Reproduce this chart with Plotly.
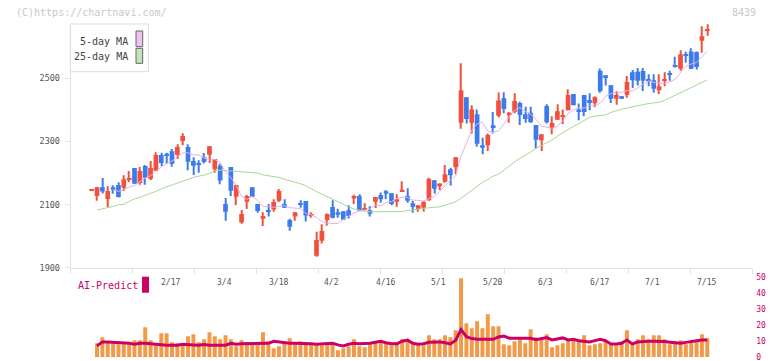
import plotly.graph_objects as go

W, H = 772, 361

# ---------------- data ----------------
idx = list(range(116))
label_pos = [15, 25, 35, 45, 55, 65, 75, 85, 95, 105, 115]
label_text = ["2/17", "3/4", "3/18", "4/2", "4/16", "5/1", "5/20", "6/3", "6/17", "7/1", "7/15"]

open_ = [2145, 2127, 2155, 2118, 2155, 2162, 2153, 2178, 2216, 2168,
         2222, 2182, 2207, 2257, 2261, 2269, 2258, 2301, 2282, 2238,
         2232, 2250, 2258, 2212, 2222, 2102, 2219, 2125, 2043, 2109,
         2155, 2102, 2055, 2080, 2084, 2112, 2102, 2051, 2062, 2103,
         2111, 2064, 1938, 1985, 2051, 2092, 2076, 2079, 2082, 2119,
         2127, 2083, 2082, 2109, 2130, 2142, 2136, 2109, 2141, 2127,
         2104, 2085, 2090, 2114, 2177, 2158, 2172, 2212, 2218, 2359,
         2440, 2359, 2386, 2288, 2288, 2351, 2381, 2437, 2385, 2394,
         2422, 2386, 2391, 2352, 2304, 2412, 2342, 2369, 2379, 2399,
         2450, 2401, 2447, 2431, 2421, 2524, 2510, 2478, 2435, 2443,
         2448, 2519, 2521, 2523, 2497, 2494, 2462, 2494, 2517, 2542,
         2530, 2577, 2585, 2583, 2619, 2652]
high = [2145, 2155, 2184, 2158, 2161, 2171, 2193, 2206, 2216, 2219,
        2225, 2238, 2266, 2264, 2264, 2276, 2291, 2326, 2291, 2250,
        2240, 2263, 2285, 2244, 2229, 2121, 2219, 2162, 2083, 2130,
        2155, 2102, 2076, 2102, 2117, 2149, 2117, 2055, 2076, 2114,
        2111, 2076, 2014, 2038, 2072, 2114, 2087, 2079, 2098, 2131,
        2133, 2104, 2095, 2124, 2138, 2146, 2136, 2133, 2174, 2152,
        2112, 2098, 2111, 2185, 2177, 2167, 2225, 2217, 2250, 2548,
        2440, 2415, 2401, 2312, 2325, 2393, 2455, 2456, 2393, 2453,
        2426, 2410, 2410, 2352, 2323, 2418, 2380, 2418, 2401, 2465,
        2450, 2420, 2447, 2453, 2443, 2531, 2510, 2478, 2459, 2443,
        2507, 2526, 2533, 2533, 2513, 2513, 2513, 2519, 2524, 2568,
        2589, 2584, 2595, 2585, 2665, 2671]
low = [2145, 2112, 2135, 2092, 2134, 2122, 2143, 2171, 2166, 2163,
       2163, 2178, 2207, 2222, 2230, 2220, 2244, 2288, 2209, 2194,
       2201, 2230, 2232, 2201, 2164, 2049, 2127, 2099, 2039, 2086,
       2125, 2074, 2032, 2062, 2077, 2108, 2090, 2017, 2049, 2090,
       2046, 2058, 1935, 1977, 2033, 2056, 2058, 2052, 2056, 2102,
       2081, 2081, 2062, 2089, 2106, 2117, 2098, 2093, 2141, 2106,
       2074, 2077, 2077, 2112, 2135, 2146, 2169, 2160, 2196, 2340,
       2357, 2325, 2283, 2259, 2270, 2325, 2376, 2389, 2359, 2389,
       2352, 2359, 2359, 2278, 2270, 2357, 2323, 2369, 2355, 2399,
       2415, 2367, 2380, 2399, 2408, 2454, 2477, 2422, 2416, 2435,
       2438, 2469, 2477, 2460, 2475, 2454, 2450, 2475, 2492, 2534,
       2524, 2549, 2529, 2528, 2581, 2635]
close = [2145, 2155, 2141, 2143, 2147, 2124, 2180, 2184, 2166, 2206,
         2185, 2216, 2257, 2232, 2256, 2229, 2282, 2317, 2236, 2223,
         2227, 2235, 2285, 2244, 2176, 2077, 2144, 2162, 2070, 2127,
         2125, 2080, 2064, 2079, 2108, 2143, 2090, 2030, 2076, 2099,
         2065, 2067, 1988, 2016, 2070, 2058, 2068, 2052, 2064, 2127,
         2081, 2089, 2071, 2124, 2117, 2134, 2102, 2117, 2147, 2112,
         2093, 2098, 2108, 2181, 2150, 2167, 2196, 2193, 2250, 2462,
         2371, 2401, 2293, 2280, 2320, 2345, 2430, 2403, 2391, 2428,
         2384, 2371, 2361, 2305, 2323, 2361, 2358, 2396, 2382, 2447,
         2415, 2393, 2393, 2422, 2440, 2459, 2501, 2435, 2447, 2435,
         2488, 2494, 2492, 2492, 2492, 2467, 2475, 2497, 2511, 2537,
         2576, 2572, 2530, 2536, 2633, 2654]

ma5 = [None, None, None, None,
       2146.2, 2142, 2147, 2155.6, 2160.2, 2172, 2184.2, 2191.4, 2206, 2219.2,
       2229.2, 2238, 2251.2, 2263.2, 2264, 2257.4, 2257, 2247.6, 2241.2, 2242.8,
       2233.4, 2203.4, 2185.2, 2160.6, 2125.8, 2116, 2125.6, 2112.8, 2093.2, 2095,
       2091.2, 2094.8, 2096.8, 2090, 2089.4, 2087.6, 2072, 2067.4, 2059, 2047,
       2041.2, 2039.8, 2040, 2052.8, 2062.4, 2073.8, 2078.4, 2082.6, 2086.4, 2098.4,
       2096.4, 2107, 2109.6, 2118.8, 2123.4, 2122.4, 2114.2, 2113.4, 2111.6, 2118.4,
       2126, 2140.8, 2160.4, 2177.4, 2191.2, 2253.6, 2294.4, 2335.4, 2355.4, 2361.4,
       2333, 2327.8, 2333.6, 2355.6, 2377.8, 2399.4, 2407.2, 2395.4, 2387, 2369.8,
       2348.8, 2344.2, 2341.6, 2348.6, 2364, 2388.8, 2399.6, 2406.6, 2406, 2414,
       2412.6, 2421.4, 2443, 2451.4, 2456.4, 2455.4, 2461.2, 2459.8, 2471.2, 2480.2,
       2491.6, 2487.4, 2483.6, 2484.6, 2488.4, 2497.4, 2519.2, 2538.6, 2545.2, 2550.2,
       2569.4, 2585]

ma25 = [None, 2083, 2086, 2089, 2094, 2099, 2101, 2110, 2118, 2123,
        2129, 2135, 2142, 2150, 2156, 2162, 2168, 2175, 2181, 2186,
        2190, 2193, 2199, 2206, 2209, 2208, 2206, 2205, 2204, 2204,
        2203, 2200, 2194, 2191, 2188, 2186, 2180, 2176, 2170, 2166,
        2160, 2150, 2141, 2133, 2125, 2115, 2107, 2100, 2093, 2086,
        2082, 2079, 2077, 2077, 2077, 2077, 2077, 2077, 2078, 2081,
        2084, 2086, 2088, 2090, 2092, 2093, 2098, 2103, 2109, 2120,
        2133, 2145, 2160, 2170, 2180, 2190, 2196, 2210, 2222, 2235,
        2247, 2256, 2266, 2278, 2288, 2296, 2305, 2318, 2328, 2338,
        2348, 2356, 2366, 2376, 2380, 2383, 2384, 2392, 2398, 2402,
        2406, 2410, 2414, 2418, 2420, 2422, 2424, 2430, 2438, 2445,
        2455, 2463, 2470, 2478, 2486, 2495]

volume = [None, 8.6, 12.4, 9.3, 8.6, 8.0, 8.0, 8.0, 10.5, 10.5,
          18.7, 10.5, 8.6, 14.9, 14.9, 9.3, 8.6, 8.0, 13.0, 14.3,
          9.3, 11.1, 15.6, 13.0, 11.1, 13.7, 11.1, 6.7, 10.5, 9.3,
          8.6, 8.6, 15.6, 9.9, 5.5, 6.7, 8.6, 11.8, 8.6, 9.9,
          8.6, 8.6, 8.0, 7.4, 8.0, 8.0, 4.2, 5.5, 6.7, 11.1,
          6.7, 6.1, 8.0, 9.3, 10.5, 8.6, 7.4, 9.3, 11.1, 11.1,
          8.6, 7.4, 7.4, 13.7, 11.1, 11.1, 13.7, 12.4, 16.8, 49.6,
          21.2, 18.1, 22.5, 18.1, 26.9, 19.3, 19.3, 8.0, 7.4, 9.9,
          11.1, 8.6, 17.4, 12.4, 11.1, 14.3, 6.1, 7.4, 8.6, 11.1,
          10.5, 11.1, 13.7, 7.4, 8.0, 8.6, 9.9, 8.0, 7.4, 9.9,
          16.8, 7.4, 11.1, 13.7, 11.1, 13.7, 13.7, 11.1, 8.0, 9.9,
          10.5, 8.0, 9.9, 9.9, 14.3, 11.8]

ai_predict = [None, 7.0, 9.5, 9.5, 9.3, 9.0, 8.6, 8.6, 8.0, 8.6,
              8.6, 8.3, 7.8, 7.4, 7.4, 7.4, 7.4, 8.0, 8.0, 7.6,
              7.4, 7.8, 7.4, 7.4, 7.4, 7.4, 8.6, 8.0, 8.3, 8.3,
              8.3, 8.6, 8.6, 8.6, 9.9, 9.5, 8.9, 8.6, 8.6, 8.6,
              8.6, 8.3, 8.0, 8.3, 8.6, 8.6, 7.6, 6.9, 8.0, 8.6,
              8.3, 8.3, 8.6, 9.3, 9.9, 9.0, 8.3, 8.3, 9.9, 10.6,
              8.6, 8.0, 8.3, 9.3, 9.6, 9.5, 9.0, 8.2, 10.5, 17.2,
              12.8, 11.6, 11.1, 11.1, 11.1, 11.1, 12.6, 13.2, 11.8, 11.8,
              11.8, 11.8, 11.8, 10.9, 11.6, 12.2, 10.7, 11.2, 12.0, 10.7,
              11.1, 10.2, 9.8, 9.5, 10.3, 11.1, 10.2, 8.2, 8.2, 8.6,
              10.7, 8.2, 9.5, 9.9, 9.9, 9.9, 9.9, 9.7, 9.3, 8.8,
              8.6, 9.2, 9.5, 10.2, 10.7, 10.7]

price_ticks = [1900, 2100, 2300, 2500]
volume_ticks = [0, 10, 20, 30, 40, 50]

# ---------------- styling helpers ----------------
UP = "#f0503c"
DOWN = "#3d7bec"
VOL = "#f39a48"
AI = "#cc0066"
FONT = "DejaVu Sans Mono"


def fx(px):
    return px / W


def fy(py):
    return 1 - py / H


# x-axis geometry (pixel layout of the reference)
X0, X1 = -3.92, 123.41
grid_step = (X1 - X0) / 11
grid_ticks = [X0 + k * grid_step for k in range(12)]

colors = [UP if c >= o else DOWN for o, c in zip(open_, close)]
body_base = [min(o, c) for o, c in zip(open_, close)]
body_len = [max(abs(c - o), 3) for o, c in zip(open_, close)]
wick_len = [max(h - l, 1) for h, l in zip(high, low)]

fig = go.Figure()

# MAs
fig.add_trace(go.Scatter(x=idx, y=ma25, mode="lines",
                         line=dict(color="#a8d698", width=1), hoverinfo="skip"))
fig.add_trace(go.Scatter(x=idx, y=ma5, mode="lines",
                         line=dict(color="#e6b0e6", width=1), hoverinfo="skip"))

# candles: wicks then bodies
fig.add_trace(go.Bar(x=idx, y=wick_len, base=low, width=0.2,
                     marker=dict(color=colors, line=dict(width=0))))
fig.add_trace(go.Bar(x=idx, y=body_len, base=body_base, width=0.88,
                     marker=dict(color=colors, line=dict(width=0))))

# volume + AI predict
fig.add_trace(go.Bar(x=idx, y=volume, width=0.74, xaxis="x2", yaxis="y2",
                     marker=dict(color=VOL, line=dict(width=0))))
fig.add_trace(go.Scatter(x=idx, y=ai_predict, mode="lines", xaxis="x2", yaxis="y2",
                         line=dict(color=AI, width=3)))

axis_col = "#e2e2e2"
fig.update_layout(
    width=W, height=H,
    margin=dict(l=0, r=0, t=0, b=0),
    paper_bgcolor="white", plot_bgcolor="white",
    showlegend=False, barmode="overlay",
    xaxis=dict(domain=[fx(70.7), fx(752.3)], range=[X0, X1], anchor="y",
               showline=True, linecolor=axis_col, linewidth=1,
               tickmode="array", tickvals=grid_ticks, ticks="outside",
               ticklen=5, tickcolor=axis_col, showticklabels=False,
               showgrid=False, zeroline=False, automargin=False),
    yaxis=dict(domain=[fy(267.7), fy(24)], range=[1900, 2672], anchor="x",
               showline=True, linecolor=axis_col, linewidth=1,
               tickmode="array", tickvals=price_ticks, ticks="outside",
               ticklen=5, tickcolor=axis_col, ticklabelstandoff=3,
               tickfont=dict(family=FONT, size=8.5, color="#555"),
               showgrid=False, zeroline=False, automargin=False),
    xaxis2=dict(domain=[fx(70.7), fx(752.3)], range=[X0, X1], anchor="y2",
                visible=False),
    yaxis2=dict(domain=[0, fy(270)], range=[-2.55, 54.8], anchor="x2", side="right",
                tickmode="array", tickvals=volume_ticks, ticks="",
                ticklabelstandoff=3, ticklabeloverflow="allow",
                tickfont=dict(family=FONT, size=8, color=AI),
                showline=False, showgrid=False, zeroline=False, automargin=False),
)


def note(x, y, text, size, color, xanchor="center", xref="paper", xshift=0):
    return dict(x=x, y=y, xref=xref, yref="paper", text=text, showarrow=False,
                xanchor=xanchor, yanchor="middle", xshift=xshift,
                font=dict(family=FONT, size=size, color=color))


ann = [note(p, fy(282.3), t, 8, "#555", xref="x", xshift=-1)
       for p, t in zip(label_pos, label_text)]
ann.append(note(fx(14), fy(12.7), "(C)https://chartnavi.com/", 10, "#c8c8c8", "left"))
ann.append(note(fx(757.5), fy(12), "8439", 10, "#c8c8c8", "right"))
ann.append(note(fx(130), fy(41.3), "5-day MA", 10, "#444", "right"))
ann.append(note(fx(130), fy(56.7), "25-day MA", 10, "#444", "right"))
ann.append(note(fx(75.5), fy(285.7), "AI-Predict", 10, AI, "left"))

shapes = [
    dict(type="rect", xref="paper", yref="paper", x0=fx(70.3), x1=fx(148.3),
         y0=fy(71.7), y1=fy(24), line=dict(color="#dddddd", width=1),
         fillcolor="white", layer="above"),
    dict(type="rect", xref="paper", yref="paper", x0=fx(136), x1=fx(142.7),
         y0=fy(46.7), y1=fy(31), line=dict(color="#666", width=1),
         fillcolor="#f0c2f0", layer="above"),
    dict(type="rect", xref="paper", yref="paper", x0=fx(136), x1=fx(142.7),
         y0=fy(63.3), y1=fy(48.3), line=dict(color="#666", width=1),
         fillcolor="#c4e3b6", layer="above"),
    dict(type="rect", xref="paper", yref="paper", x0=fx(142), x1=fx(149),
         y0=fy(292.7), y1=fy(276.7), line=dict(width=0),
         fillcolor=AI, layer="above"),
]

fig.update_layout(annotations=ann, shapes=shapes)
fig.write_html("out.html")
